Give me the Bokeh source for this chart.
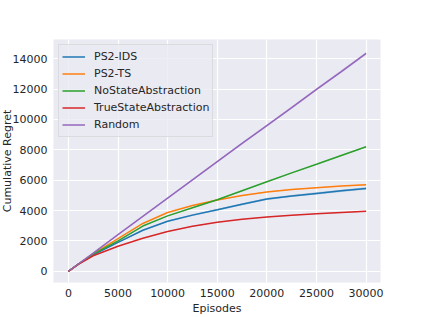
from bokeh.plotting import figure
from bokeh.models import Range1d, FixedTicker, Legend, LegendItem
from bokeh.embed import file_html
from bokeh.resources import INLINE

# ---- data ----
episodes = [0, 1000, 2500, 5000, 7500, 10000, 12500, 15000, 17500, 20000, 22500, 25000, 27500, 30000]

ps2_ids = [0, 470, 1080, 1900, 2700, 3300, 3700, 4050, 4420, 4760, 4960, 5130, 5300, 5460]
ps2_ts = [0, 475, 1150, 2150, 3150, 3870, 4330, 4700, 4990, 5230, 5390, 5510, 5610, 5700]
no_state = [0, 475, 1130, 2000, 2980, 3650, 4180, 4710, 5310, 5900, 6480, 7050, 7630, 8200]
true_state = [0, 460, 1020, 1650, 2170, 2620, 2960, 3230, 3420, 3570, 3690, 3790, 3870, 3950]
random_pol = [0, 480, 1200, 2420, 3620, 4820, 6020, 7220, 8420, 9600, 10780, 11980, 13160, 14350]

# half-width of the shaded uncertainty band of each series
ps2_ids_sd = [0, 10, 20, 30, 40, 50, 55, 60, 65, 70, 72, 75, 78, 80]
ps2_ts_sd = [0, 5, 10, 12, 15, 18, 20, 22, 24, 25, 26, 27, 28, 30]
no_state_sd = [0, 5, 10, 15, 20, 25, 28, 30, 33, 36, 38, 40, 42, 45]
true_state_sd = [0, 5, 8, 10, 12, 14, 15, 16, 17, 18, 19, 20, 21, 22]
random_sd = [0, 8, 15, 25, 35, 45, 50, 55, 60, 65, 70, 75, 80, 85]

names = ["PS2-IDS", "PS2-TS", "NoStateAbstraction", "TrueStateAbstraction", "Random"]
x_ticks = [0, 5000, 10000, 15000, 20000, 25000, 30000]
y_ticks = [0, 2000, 4000, 6000, 8000, 10000, 12000, 14000]

colors = ["#1f77b4", "#ff7f0e", "#2ca02c", "#d62728", "#9467bd"]
series = [ps2_ids, ps2_ts, no_state, true_state, random_pol]
bands = [ps2_ids_sd, ps2_ts_sd, no_state_sd, true_state_sd, random_sd]

FONT = "DejaVu Sans"
TXT = "#262626"
FS = "11px"

p = figure(width=426, height=317, output_backend="svg", toolbar_location=None,
           x_range=Range1d(-1500, 31450), y_range=Range1d(-740, 15270),
           background_fill_color="#EAEAF2", border_fill_color="white",
           min_border_left=50, min_border_right=43, min_border_top=39, min_border_bottom=35,
           margin=(0, 0, 0, -3))
p.outline_line_color = None

items = []
for name, ys, sd, c in zip(names, series, bands, colors):
    lo = [y - s for y, s in zip(ys, sd)]
    hi = [y + s for y, s in zip(ys, sd)]
    p.varea(x=episodes, y1=lo, y2=hi, fill_color=c, fill_alpha=0.3)
    r = p.line(episodes, ys, line_color=c, line_width=1.5)
    items.append(LegendItem(label=name, renderers=[r]))

legend = Legend(items=items, location="top_left", margin=5, padding=3, spacing=0,
                glyph_width=23, glyph_height=17, label_height=17, label_standoff=9,
                label_text_font=FONT, label_text_font_size=FS, label_text_color=TXT,
                background_fill_color="#EAEAF2", background_fill_alpha=0.8,
                border_line_color="#cccccc", border_line_width=1)
p.add_layout(legend)

for ax in (p.xaxis, p.yaxis):
    ax.axis_line_color = None
    ax.major_tick_line_color = None
    ax.minor_tick_line_color = None
    ax.major_tick_out = 0
    ax.major_tick_in = 0
    ax.minor_tick_out = 0
    ax.minor_tick_in = 0
    ax.major_label_text_font = FONT
    ax.major_label_text_font_size = FS
    ax.major_label_text_color = TXT
    ax.axis_label_text_font = FONT
    ax.axis_label_text_font_size = FS
    ax.axis_label_text_font_style = "normal"
    ax.axis_label_text_color = TXT

p.xaxis.ticker = FixedTicker(ticks=x_ticks)
p.yaxis.ticker = FixedTicker(ticks=y_ticks)
p.xaxis.axis_label = "Episodes"
p.yaxis.axis_label = "Cumulative Regret"
p.xaxis.major_label_standoff = 6
p.xaxis.axis_label_standoff = 2
p.yaxis.major_label_standoff = 6
p.yaxis.axis_label_standoff = -4

p.xgrid.grid_line_color = "white"
p.ygrid.grid_line_color = "white"
p.xgrid.grid_line_width = 1.2
p.ygrid.grid_line_width = 1.2

open("out.html", "w").write(file_html(p, INLINE))
